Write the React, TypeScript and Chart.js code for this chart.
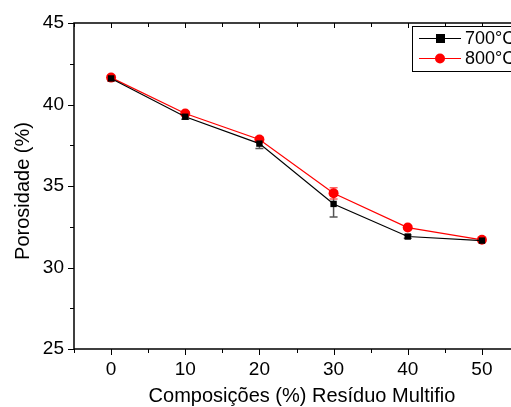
import React, { useEffect, useRef } from "react";
import { Chart, registerables } from "chart.js";

Chart.register(...registerables);

const composicoes = [0, 10, 20, 30, 40, 50];
const s700 = [41.6, 39.25, 37.6, 33.9, 31.9, 31.65];
const s800 = [41.65, 39.45, 37.85, 34.55, 32.45, 31.7];
const err700 = [0.15, 0.15, 0.3, 0.8, 0.1, 0.1];
const err800 = [0.15, 0.1, 0.15, 0.35, 0.1, 0.1];
const xTickValues = [0, 10, 20, 30, 40, 50];
const seriesLabels = ["700°C", "800°C"];
const xTitle = "Composições (%) Resíduo Multifio";
const yTitle = "Porosidade (%)";
const xMin = -5, xMax = 55, yMin = 25, yMax = 45;

const FONT = "'Liberation Sans', Arial, sans-serif";

const customPlugin = {
  id: "custom",
  beforeDatasetsDraw(chart: any) {
    const { ctx, scales } = chart;
    const x = scales.x, y = scales.y;
    const sets = [
      { vals: s700, errs: err700, color: "#555555" },
      { vals: s800, errs: err800, color: "rgba(255,60,60,0.8)" },
    ];
    ctx.save();
    ctx.lineWidth = 1.5;
    for (const s of sets) {
      ctx.strokeStyle = s.color;
      for (let i = 0; i < composicoes.length; i++) {
        const px = x.getPixelForValue(composicoes[i]);
        const top = y.getPixelForValue(s.vals[i] + s.errs[i]);
        const bot = y.getPixelForValue(s.vals[i] - s.errs[i]);
        ctx.beginPath();
        ctx.moveTo(px, top); ctx.lineTo(px, bot);
        ctx.moveTo(px - 4, top); ctx.lineTo(px + 4, top);
        ctx.moveTo(px - 4, bot); ctx.lineTo(px + 4, bot);
        ctx.stroke();
      }
    }
    ctx.restore();
  },
  afterDraw(chart: any) {
    const { ctx, scales, chartArea } = chart;
    const x = scales.x, y = scales.y;
    const { left, right, top, bottom } = chartArea;
    ctx.save();
    ctx.strokeStyle = "#000";
    ctx.lineWidth = 1.5;
    ctx.beginPath();
    ctx.rect(left, top, right - left, bottom - top);
    ctx.stroke();
    ctx.lineWidth = 1;
    ctx.beginPath();
    for (let v = xMin; v <= xMax; v += 5) {
      const px = Math.round(x.getPixelForValue(v)) + 0.5;
      const major = v % 10 === 0;
      ctx.moveTo(px, bottom); ctx.lineTo(px, bottom + (major ? 6 : 4));
      ctx.moveTo(px, top); ctx.lineTo(px, top + (major ? 5 : 4));
    }
    for (let v = yMin; v <= yMax; v += 2.5) {
      const py = Math.round(y.getPixelForValue(v)) + 0.5;
      const major = v % 5 === 0;
      ctx.moveTo(left, py); ctx.lineTo(left - (major ? 6 : 4), py);
      ctx.moveTo(right, py); ctx.lineTo(right - (major ? 5 : 4), py);
    }
    ctx.stroke();

    ctx.fillStyle = "#000";
    ctx.font = `20px ${FONT}`;
    ctx.textAlign = "center";
    ctx.textBaseline = "middle";
    ctx.fillText(xTitle, 302, 396);
    ctx.save();
    ctx.translate(23, 191);
    ctx.rotate(-Math.PI / 2);
    ctx.fillText(yTitle, 0, 0);
    ctx.restore();

    const lx = 412, ly = 26;
    ctx.fillStyle = "#fff";
    ctx.fillRect(lx, ly, 120, 45);
    ctx.strokeStyle = "#000";
    ctx.lineWidth = 1;
    ctx.strokeRect(lx + 0.5, ly + 0.5, 120, 45);
    const items = [
      { label: seriesLabels[0], color: "#000", y: 38, shape: "square" },
      { label: seriesLabels[1], color: "#ff0000", y: 58, shape: "circle" },
    ];
    for (const it of items) {
      ctx.strokeStyle = it.color;
      ctx.lineWidth = 1;
      ctx.beginPath();
      ctx.moveTo(419, it.y + 0.5); ctx.lineTo(461, it.y + 0.5);
      ctx.stroke();
      ctx.fillStyle = it.color;
      if (it.shape === "square") {
        ctx.fillRect(436, it.y - 4, 9, 9);
      } else {
        ctx.beginPath();
        ctx.arc(440, it.y + 0.5, 5, 0, Math.PI * 2);
        ctx.fill();
      }
      ctx.fillStyle = "#000";
      ctx.font = `18px ${FONT}`;
      ctx.textAlign = "left";
      ctx.textBaseline = "middle";
      ctx.fillText(it.label, 465, it.y + 1);
    }
    ctx.restore();
  },
};

export default function App() {
  const ref = useRef<HTMLCanvasElement>(null);
  useEffect(() => {
    if (!ref.current) return;
    const chart = new Chart(ref.current, {
      type: "line",
      data: {
        datasets: [
          {
            label: seriesLabels[0],
            data: composicoes.map((c, i) => ({ x: c, y: s700[i] })),
            borderColor: "#000",
            backgroundColor: "#000",
            borderWidth: 1.2,
            pointStyle: "rect",
            pointRadius: 4.5,
            pointBorderWidth: 0,
          },
          {
            label: seriesLabels[1],
            data: composicoes.map((c, i) => ({ x: c, y: s800[i] })),
            borderColor: "#ff0000",
            backgroundColor: "#ff0000",
            borderWidth: 1.2,
            pointStyle: "circle",
            pointRadius: 5,
            pointBorderWidth: 0,
          },
        ],
      },
      options: {
        animation: false,
        responsive: false,
        layout: { padding: { top: 23, right: 11, left: 0, bottom: 0 } },
        plugins: { legend: { display: false }, tooltip: { enabled: false } },
        scales: {
          x: {
            type: "linear",
            min: xMin,
            max: xMax,
            grid: { display: false, drawTicks: false, tickLength: 0 },
            border: { display: false },
            afterFit: (s: any) => { s.height = 58; },
            afterBuildTicks: (s: any) => { s.ticks = xTickValues.map((v) => ({ value: v })); },
            ticks: {
              padding: 9,
              color: "#000",
              font: { size: 19, family: FONT },
              maxRotation: 0,
              autoSkip: false,
            },
          },
          y: {
            min: yMin,
            max: yMax,
            grid: { display: false, drawTicks: false, tickLength: 0 },
            border: { display: false },
            afterFit: (s: any) => { s.width = 74; },
            ticks: {
              stepSize: 5,
              padding: 10,
              color: "#000",
              font: { size: 19, family: FONT },
            },
          },
        },
      },
      plugins: [customPlugin],
    });
    return () => chart.destroy();
  }, []);
  return (
    <div style={{ position: "absolute", left: 0, top: 0, width: 511, height: 407, overflow: "hidden", background: "#fff" }}>
      <canvas ref={ref} width={530} height={407} style={{ width: 530, height: 407, display: "block" }} />
    </div>
  );
}
